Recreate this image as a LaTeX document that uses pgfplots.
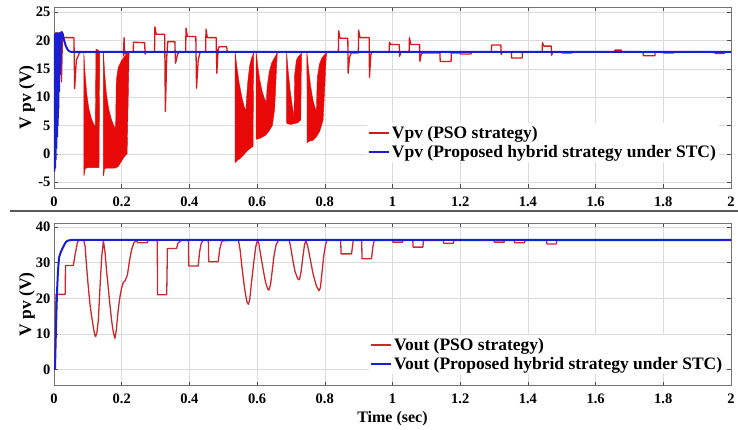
\documentclass[border=0pt]{standalone}
\usepackage{pgfplots}
\pgfplotsset{compat=1.18}
\usepackage{fontspec}
\setmainfont{Liberation Serif}
\definecolor{pvfill}{RGB}{232,8,8}
\definecolor{pvline}{RGB}{215,25,25}
\definecolor{outred}{RGB}{205,40,45}
\definecolor{myblue}{RGB}{25,30,210}
\pgfplotsset{
  common/.style={
    scale only axis, width=677pt,
    xmin=0, xmax=2,
    xtick={0,0.2,0.4,0.6,0.8,1,1.2,1.4,1.6,1.8,2},
    /pgf/number format/assume math mode=true,
    /pgf/number format/fixed,
    tick label style={font=\bfseries\fontsize{14.5}{14.5}\selectfont},
    xticklabel style={yshift=-5pt},
    grid=major,
    grid style={black!14, line width=0.6pt},
    axis line style={black!55, line width=0.7pt},
    tick style={black!70, line width=0.6pt},
    major tick length=4pt,
    tick align=inside,
    xtick pos=both, ytick pos=both,
    ylabel={V pv (V)},
    ylabel style={at={(axis description cs:-0.04,0.5)}, anchor=center, rotate=0, font=\bfseries\fontsize{17.5}{17.5}\selectfont},
    legend cell align=left,
    legend image code/.code={\draw[##1, line width=2pt] (0pt,0pt) -- (20pt,0pt);},
    unbounded coords=jump,
  }
}
\begin{document}
\begin{tikzpicture}
\useasboundingbox (0,0) rectangle (738pt,430pt);
% ---------------- top panel ----------------
\begin{axis}[common, height=181pt, at={(54pt,242pt)}, anchor=south west,
  ymin=-6, ymax=25.9, ytick={-5,0,5,10,15,20,25},
  legend style={at={(0.462,0.251)}, anchor=west, draw=none, fill=white,
    font=\bfseries\fontsize{17.5}{19}\selectfont, inner sep=1pt, row sep=1.5pt}]
% filled oscillation regions of PSO
\addplot[forget plot, fill=pvfill, draw=pvfill, line width=0.4pt] coordinates {
 (0.088,18) (0.092,14) (0.097,10.5) (0.103,8) (0.110,6.3) (0.117,5.3) (0.122,4.8) (0.124,18.5) (0.130,18.3) (0.135,18)
 (0.135,17) (0.133,-2.4) (0.100,-2.4) (0.092,-2.6) (0.089,-3.8) (0.088,-3.8)} -- cycle;
\addplot[forget plot, fill=pvfill, draw=pvfill, line width=0.4pt] coordinates {
 (0.146,18) (0.150,14) (0.155,10.5) (0.162,7.8) (0.170,6) (0.178,4.8) (0.182,4.5) (0.184,13) (0.190,15.3) (0.200,16.5) (0.210,17.3) (0.215,17.6) (0.222,18)
 (0.216,0) (0.210,-0.3) (0.200,-1.2) (0.190,-2.2) (0.180,-2.5) (0.155,-2.5) (0.149,-2.6) (0.147,-3.8) (0.146,-3.8)} -- cycle;
\addplot[forget plot, fill=pvfill, draw=pvfill, line width=0.4pt] coordinates {
 (0.535,18) (0.540,15.5) (0.547,12.5) (0.555,10) (0.562,8.3) (0.567,7.6) (0.569,10) (0.573,13) (0.578,15.5) (0.584,17) (0.588,17.5) (0.590,18)
 (0.590,17.5) (0.588,1.3) (0.580,1) (0.570,0.5) (0.560,-0.2) (0.550,-0.8) (0.540,-1.2) (0.537,-1.5) (0.535,-1.5)} -- cycle;
\addplot[forget plot, fill=pvfill, draw=pvfill, line width=0.4pt] coordinates {
 (0.597,18) (0.602,15.5) (0.608,13) (0.615,11) (0.622,9.7) (0.627,9.2) (0.630,12) (0.636,14.5) (0.643,16) (0.650,16.8) (0.655,17.3) (0.660,18)
 (0.658,16) (0.652,8) (0.645,5) (0.635,4) (0.625,3.3) (0.610,2.8) (0.600,2.6) (0.597,2.6)} -- cycle;
\addplot[forget plot, fill=pvfill, draw=pvfill, line width=0.4pt] coordinates {
 (0.687,18) (0.692,14.5) (0.698,11) (0.705,8) (0.709,6.5) (0.711,14) (0.716,16.5) (0.722,17.2) (0.728,17.5) (0.731,18)
 (0.731,17) (0.729,6) (0.720,5.5) (0.700,5.2) (0.690,5.3) (0.687,5.5)} -- cycle;
\addplot[forget plot, fill=pvfill, draw=pvfill, line width=0.4pt] coordinates {
 (0.747,18) (0.752,15) (0.758,12) (0.765,9.5) (0.772,8) (0.775,7.5) (0.778,13.5) (0.784,15.8) (0.792,17) (0.800,17.5) (0.806,18)
 (0.804,17) (0.800,12) (0.795,6) (0.785,4) (0.775,3) (0.765,2.4) (0.752,2.2) (0.748,2)} -- cycle;
% PSO line
\addplot[pvline, line width=1.3pt, line join=round] coordinates {
 (0.003,21.3) (0.020,21.3) (0.022,12.7) (0.025,20.5) (0.059,20.5) (0.061,11.5) (0.066,16.5) (0.075,17.8) (0.088,18)
 (0.1,nan)
 (0.135,18) (0.146,18)
 (0.17,nan)
 (0.205,17.2) (0.207,20.5) (0.209,17.6) (0.222,18) (0.234,18) (0.235,19.7) (0.268,19.6) (0.269,17.6) (0.273,18)
 (0.297,18) (0.298,22.4) (0.302,21.1) (0.327,21.1) (0.329,7.5) (0.333,17) (0.336,19.8) (0.357,19.8) (0.359,16) (0.365,17.6) (0.372,18)
 (0.389,18) (0.390,22.2) (0.394,20.7) (0.419,20.7) (0.421,11.6) (0.426,16.5) (0.432,18)
 (0.448,18) (0.449,22) (0.453,20.5) (0.479,20.5) (0.481,14.2) (0.485,18.5) (0.488,18.9) (0.510,18.9) (0.512,18) (0.535,18)
 (0.55,nan)
 (0.590,18) (0.597,18)
 (0.62,nan)
 (0.660,18) (0.687,18)
 (0.70,nan)
 (0.731,18) (0.747,18)
 (0.76,nan)
 (0.806,18) (0.840,18) (0.841,21.7) (0.845,20.4) (0.868,20.4) (0.869,14.2) (0.873,17) (0.878,17.8) (0.899,17.8)
 (0.900,21.8) (0.904,20.5) (0.931,20.5) (0.932,13.5) (0.936,17.5) (0.940,18) (0.990,18) (0.991,19.7) (0.995,19.3) (1.020,19.3)
 (1.021,17.2) (1.025,18) (1.049,18) (1.050,20.5) (1.054,19.3) (1.080,19.3) (1.081,16.3) (1.085,17.6) (1.090,17.8) (1.140,17.8)
 (1.141,16.3) (1.173,16.3) (1.174,17.8) (1.200,17.8) (1.201,17.6) (1.232,17.6) (1.233,18) (1.292,18) (1.293,19.2) (1.320,19.2)
 (1.321,17.5) (1.325,18) (1.351,18) (1.352,16.9) (1.383,16.9) (1.384,18) (1.442,18) (1.443,19.6) (1.447,19) (1.469,19)
 (1.470,17.4) (1.474,18) (1.500,18) (1.501,17.8) (1.530,17.8) (1.531,18) (1.656,18) (1.657,18.3) (1.676,18.3) (1.677,18)
 (1.740,18) (1.741,17.3) (1.775,17.3) (1.776,18) (1.800,18) (1.801,17.8) (1.830,17.8) (1.831,18) (1.952,18) (1.953,17.7)
 (1.980,17.7) (1.981,18) (2,18)};
\addlegendentry{Vpv (PSO strategy)}
\addplot[myblue, line width=2pt, line join=round] coordinates {
 (0,15) (0.001,-3) (0.002,21) (0.003,-2.5) (0.004,21.2) (0.005,-1) (0.006,21) (0.007,1) (0.008,21.3) (0.009,3)
 (0.010,21) (0.011,5) (0.012,21.2) (0.013,8) (0.014,21) (0.015,11) (0.016,21.3) (0.017,14) (0.018,21) (0.019,15)
 (0.020,21.3) (0.021,19) (0.022,21.5) (0.025,21.3) (0.030,20) (0.035,19) (0.040,18.4) (0.045,18.1) (0.050,18) (2,18)};
\addlegendentry{Vpv (Proposed hybrid strategy under STC)}
\end{axis}
% separator
\draw[black!65, line width=1.8pt] (10pt,219pt) -- (738pt,219pt);
% ---------------- bottom panel ----------------
\begin{axis}[common, height=162.4pt, at={(54pt,44.3pt)}, anchor=south west,
  ymin=-4.6, ymax=41.1, ytick={0,10,20,30,40},
  xlabel={Time (sec)},
  xlabel style={at={(axis description cs:0.5,-0.205)}, anchor=center, font=\bfseries\fontsize{16}{16}\selectfont},
  legend style={at={(0.465,0.19)}, anchor=west, draw=none, fill=white,
    font=\bfseries\fontsize{17.5}{19}\selectfont, inner sep=1pt, row sep=1.5pt}]
\addplot[outred, line width=1.3pt, line join=round] coordinates {
 (0.002,0) (0.006,21.1) (0.033,21.1) (0.034,29.2) (0.057,29.2) (0.061,31.5) (0.065,33.6) (0.069,35.6) (0.072,36.3) (0.088,36.3)
 (0.092,34.5) (0.097,28) (0.102,22.5) (0.106,18.6) (0.111,15) (0.116,12) (0.120,9.8) (0.123,9.2) (0.127,10.5) (0.131,13.9) (0.136,23.3) (0.141,31.7) (0.146,36.2)
 (0.151,32.7) (0.155,28) (0.160,23.3) (0.165,18.4) (0.170,13.9) (0.175,10.5) (0.180,8.7) (0.184,11) (0.190,17) (0.195,20.5) (0.200,23) (0.205,24.5) (0.210,24.9) (0.217,26.6) (0.223,30.5) (0.229,33.6) (0.236,35.6) (0.244,36.3)
 (0.247,35.6) (0.275,35.6) (0.278,36.3) (0.305,36.3) (0.306,21) (0.333,21) (0.335,34) (0.362,34) (0.366,35.5) (0.376,36.3)
 (0.397,36.3) (0.398,29.1) (0.426,29.1) (0.430,33) (0.435,35.5) (0.440,36.3) (0.456,36.3) (0.457,30.3) (0.485,30.3) (0.490,34) (0.495,35.8) (0.500,36.2) (0.545,36.3)
 (0.550,33.5) (0.555,29) (0.560,25) (0.565,21.5) (0.570,19) (0.574,18.3) (0.578,19.5) (0.583,24) (0.590,30) (0.596,34.5) (0.601,36.3)
 (0.605,35.5) (0.610,32.5) (0.618,28) (0.625,24.5) (0.632,22.5) (0.635,22.3) (0.640,24) (0.645,28) (0.650,32) (0.656,35) (0.663,36.3)
 (0.695,36.3) (0.700,34) (0.705,31) (0.712,27.5) (0.720,25.5) (0.725,25.2) (0.730,27.5) (0.735,31.5) (0.740,35) (0.744,36.3)
 (0.750,34.5) (0.757,31) (0.765,27) (0.775,23.5) (0.783,22.1) (0.787,23) (0.792,27.5) (0.797,32) (0.802,35) (0.806,36.3)
 (0.847,36.3) (0.848,32.5) (0.879,32.5) (0.884,36.3) (0.909,36.3) (0.910,31.1) (0.938,31.1) (0.942,34.5) (0.946,36.3)
 (1.000,36.3) (1.001,35.8) (1.030,35.8) (1.031,36.3) (1.060,36.3) (1.061,34.4) (1.090,34.4) (1.091,36.3)
 (1.150,36.3) (1.151,35.5) (1.180,35.5) (1.181,36.3) (1.300,36.3) (1.301,35.8) (1.330,35.8) (1.331,36.3)
 (1.360,36.3) (1.361,35.6) (1.390,35.6) (1.391,36.3) (1.455,36.3) (1.456,35.3) (1.484,35.3) (1.485,36.3) (2,36.3)};
\addlegendentry{Vout (PSO strategy)}
\addplot[myblue, line width=2pt, line join=round] coordinates {
 (0,0) (0.003,0.3) (0.006,12) (0.009,22) (0.012,28) (0.015,31.5) (0.020,33) (0.025,34) (0.030,35) (0.035,35.8) (0.040,36.2) (0.050,36.4) (2,36.4)};
\addlegendentry{Vout (Proposed hybrid strategy under STC)}
\end{axis}
\end{tikzpicture}
\end{document}
